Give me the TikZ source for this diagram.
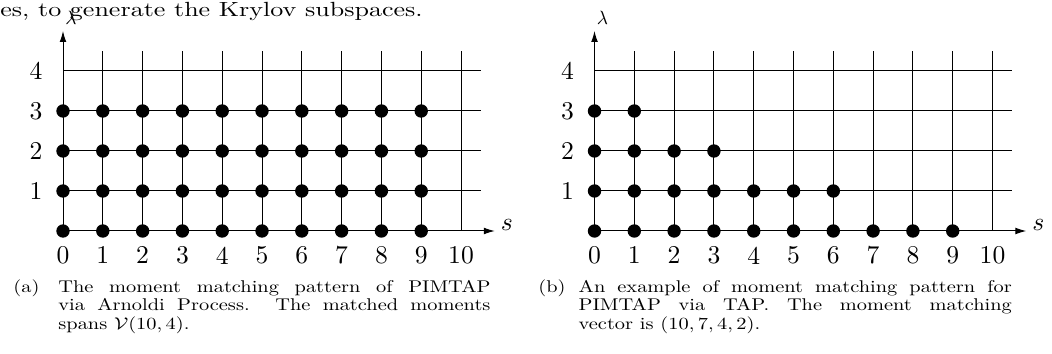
\documentclass[tikz,border=0pt]{standalone}
\usetikzlibrary{arrows.meta}
\newcommand\tklab[1]{\scalebox{1.28}{#1}}
\newcommand\capsc[1]{\scalebox{1.02}[0.85]{#1}}
\tikzset{
  gridline/.style={line width=0.5pt},
  axisline/.style={line width=0.5pt,-{Latex[length=5.5pt,width=3.4pt]}},
  dot/.style={circle,fill=black,inner sep=0pt,minimum size=6.7pt},
  ticklab/.style={font=\fontsize{10}{12}\selectfont,inner sep=0pt},
  capline/.style={font=\fontsize{10}{12}\selectfont,inner sep=0pt,anchor=base west},
  toptext/.style={font=\fontsize{10.25}{12}\selectfont,inner sep=0pt,anchor=base west}
}
\begin{document}
\begin{tikzpicture}[x=0.5pt,y=0.5pt]
\useasboundingbox (0,0) rectangle (1052,353);
\node[toptext] (top) at (0,336.3) {\scalebox{1.27}[1]{es, to generate the Krylov subspaces.}};
% ---------- left plot ----------
\begin{scope}[shift={(63,122)},x=19.9pt,y=20pt]
  \foreach \r in {1,...,4} \draw[gridline] (0,\r) -- (10.5,\r);
  \foreach \c in {1,...,10} \draw[gridline] (\c,0) -- (\c,4.5);
  \coordinate (LO) at (0,0);
  \coordinate (LX) at (10.85,0);
  \coordinate (LY) at (0,5);
  \draw[axisline] (LO) -- (LX);
  \draw[axisline] (LO) -- (LY);
  \node[ticklab] (Ls) at (11.15,0.15) {\tklab{$s$}};
  \node[ticklab] (Llam) at (0.2,5.33) {\scalebox{0.96}{$\lambda$}};
  \foreach \c in {0,...,10} \node[ticklab] (Lx\c) at (\c,-0.61) {\tklab{\c}};
  \foreach \r in {1,...,4} \node[ticklab] (Ly\r) at (-0.68,\r) {\tklab{\r}};
  \foreach \c in {0,...,9} \foreach \r in {0,...,3} \node[dot] (Ld\c-\r) at (\c,\r) {};
\end{scope}
% ---------- right plot ----------
\begin{scope}[shift={(594.5,122)},x=19.9pt,y=20pt]
  \foreach \r in {1,...,4} \draw[gridline] (0,\r) -- (10.5,\r);
  \foreach \c in {1,...,10} \draw[gridline] (\c,0) -- (\c,4.5);
  \coordinate (RO) at (0,0);
  \coordinate (RX) at (10.85,0);
  \coordinate (RY) at (0,5);
  \draw[axisline] (RO) -- (RX);
  \draw[axisline] (RO) -- (RY);
  \node[ticklab] (Rs) at (11.15,0.15) {\tklab{$s$}};
  \node[ticklab] (Rlam) at (0.2,5.33) {\scalebox{0.96}{$\lambda$}};
  \foreach \c in {0,...,10} \node[ticklab] (Rx\c) at (\c,-0.61) {\tklab{\c}};
  \foreach \r in {1,...,4} \node[ticklab] (Ry\r) at (-0.68,\r) {\tklab{\r}};
  \foreach \c in {0,...,9} \node[dot] (Rd\c-0) at (\c,0) {};
  \foreach \c in {0,...,6} \node[dot] (Rd\c-1) at (\c,1) {};
  \foreach \c in {0,...,3} \node[dot] (Rd\c-2) at (\c,2) {};
  \foreach \c in {0,...,1} \node[dot] (Rd\c-3) at (\c,3) {};
\end{scope}
% ---------- captions ----------
\node[capline] (tagA) at (13,60.5) {\capsc{(a)}};
\node[capline] (capA1) at (58,60.5) {\capsc{\makebox[211.8pt][s]{The moment matching pattern of PIMTAP}}};
\node[capline] (capA2) at (58,42.2) {\capsc{\makebox[211.8pt][s]{via Arnoldi Process. The matched moments}}};
\node[capline] (capA3) at (58,23.9) {\capsc{spans $\mathcal{V}(10,4)$.}};
\node[capline] (tagB) at (538,60.5) {\capsc{(b)}};
\node[capline] (capB1) at (578.3,60.5) {\capsc{\makebox[212.3pt][s]{An example of moment matching pattern for}}};
\node[capline] (capB2) at (578.3,42.2) {\capsc{\makebox[212.3pt][s]{PIMTAP via TAP. The moment matching}}};
\node[capline] (capB3) at (578.3,23.9) {\capsc{vector is $(10,7,4,2)$.}};
\end{tikzpicture}
\end{document}
